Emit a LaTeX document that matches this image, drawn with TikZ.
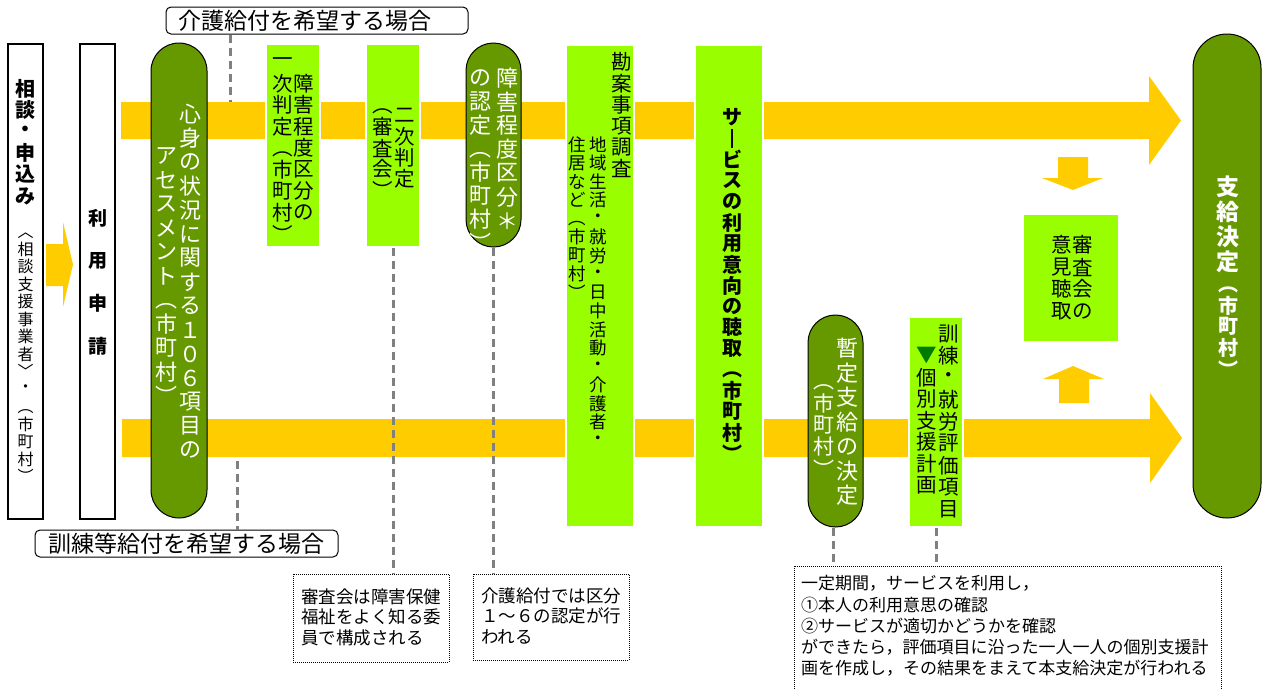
\documentclass[tikz,border=0pt]{standalone}
\usepackage{fontspec}
\setmainfont{Noto Sans CJK JP}
\definecolor{yel}{HTML}{FFCC00}
\definecolor{dkg}{HTML}{669900}
\definecolor{lgr}{HTML}{99FF00}
\definecolor{tri}{HTML}{007A00}
\definecolor{dgray}{HTML}{808080}
\newcommand\hf[2]{\fontsize{#1}{#2}\selectfont}
% vertical column of characters
\newdimen\vp
\def\vEnd{vEnd-unique}
\newcommand\vcol[2]{\vp=#1\relax\vbox{\offinterlineskip\vcolA#2\vEnd}}
\def\vcolA#1{\ifx\vEnd#1\else\vcolB{#1}\expandafter\vcolA\fi}
\def\vcolB#1{%
  \ifx︵#1\vcellB{#1}\else
  \ifx︿#1\vcellB{#1}\else
  \ifx︶#1\vcellT{#1}\else
  \ifx﹀#1\vcellT{#1}\else
  \vcellC{#1}\fi\fi\fi\fi}
\def\vcellC#1{\vbox to\vp{\vss\hbox to1em{\hss#1\hss}\vss}}
\def\vcellB#1{\vbox to\vp{\vss\hbox to1em{\hss#1\hss}\vskip0.1\vp}}
\def\vcellT#1{\vbox to\vp{\vskip0.1\vp\hbox to1em{\hss#1\hss}\vss}}
\newcommand\tri{{\color{tri}▼}}
\newcommand\vbarr{\vrule width 2.6pt height 9.5pt depth 9.5pt}
\begin{document}
\begin{tikzpicture}[x=1pt,y=-1pt,
  wbox/.style={rectangle,draw=black,line width=1.2pt,fill=white,inner sep=0pt},
  lgbox/.style={rectangle,fill=lgr,draw=white,line width=1.2pt,inner sep=0pt},
  pill/.style={rectangle,fill=dkg,draw=black,line width=1pt,inner sep=0pt},
  lbl/.style={rectangle,rounded corners=5pt,draw=black,line width=1pt,fill=white,inner sep=0pt},
  note/.style={rectangle,draw=black,line width=0.9pt,dash pattern=on 1pt off 1pt,inner sep=0pt},
  vt/.style={inner sep=0pt,text=black},
  vtw/.style={inner sep=0pt,text=white},
  dsh/.style={draw=dgray,line width=3pt,dash pattern=on 8pt off 5pt},
  ntext/.style={inner sep=0pt,anchor=west,align=left}
]
\useasboundingbox[fill=white] (0,0) rectangle (1262,689);
\clip (0,0) rectangle (1262,689);

% big yellow arrows
\fill[yel] (121,102) -- (1149,102) -- (1149,76) -- (1181,120.5) -- (1149,165) -- (1149,139) -- (121,139) -- cycle;
\fill[yel] (122,419) -- (1150,419) -- (1150,393) -- (1182,438) -- (1150,483) -- (1150,457) -- (122,457) -- cycle;
% small arrows
\fill[yel] (46,244) -- (63,244) -- (63,222) -- (73,264.5) -- (63,307) -- (63,286) -- (46,286) -- cycle;
\fill[yel] (1058,157) -- (1088,157) -- (1088,178) -- (1103,178) -- (1073,190) -- (1042,178) -- (1058,178) -- cycle;
\fill[yel] (1059,403) -- (1089,403) -- (1089,379) -- (1104,379) -- (1073,366) -- (1043,379) -- (1059,379) -- cycle;

% boxes
\node[wbox,minimum width=35pt,minimum height=475pt] (soudan) at (25.5,281.5) {};
\node[wbox,minimum width=35pt,minimum height=475pt] (riyou) at (97.5,281.5) {};
\node[pill,rounded corners=28pt,minimum width=56pt,minimum height=475pt] (assess) at (179,280.5) {};
\node[lgbox,minimum width=54pt,minimum height=203pt] (ichiji) at (293,145.5) {};
\node[lgbox,minimum width=54pt,minimum height=203pt] (niji) at (393,145.5) {};
\node[pill,rounded corners=27.5pt,minimum width=55pt,minimum height=204pt] (nintei) at (493.5,145) {};
\node[lgbox,minimum width=68pt,minimum height=482pt] (kanan) at (600,286) {};
\node[lgbox,minimum width=68pt,minimum height=482pt] (service) at (729,286) {};
\node[pill,rounded corners=27.5pt,minimum width=55pt,minimum height=212pt] (zantei) at (835.5,421) {};
\node[lgbox,minimum width=54pt,minimum height=210pt] (hyouka) at (936,422) {};
\node[lgbox,minimum width=96pt,minimum height=128pt] (shinsa) at (1071,278) {};
\node[pill,rounded corners=34pt,minimum width=68pt,minimum height=484pt] (shikyu) at (1227,276) {};

% vertical texts
\node[vt,anchor=north,font=\hf{20}{20}\bfseries] (ts1) at (25.5,78) {\vcol{21.4pt}{相談・申込み}};
\node[vt,anchor=north,font=\hf{16}{16}] (ts2) at (25.5,222.5) {\vcol{17.5pt}{︿相談支援事業者﹀・︵市町村︶}};
\node[vt,font=\hf{19}{19}\bfseries] (tr) at (97.5,282) {\vcol{42.7pt}{利用申請}};
\node[vtw,font=\hf{22}{22}] (ta1) at (190.5,282) {\vcol{24pt}{心身の状況に関する１０６項目の}};
\node[vtw,font=\hf{22}{22}] (ta2) at (166,276) {\vcol{24pt}{アセスメント︵市町村︶}};
\node[vt,font=\hf{20.5}{20.5}] (ti1) at (303.5,148) {\vcol{21.5pt}{障害程度区分の}};
\node[vt,font=\hf{20.5}{20.5}] (ti2) at (283,148) {\vcol{21.5pt}{一次判定︵市町村︶}};
\node[vt,font=\hf{20.5}{20.5}] (tn1) at (405,147) {\vcol{21pt}{二次判定}};
\node[vt,font=\hf{20.5}{20.5}] (tn2) at (383,148) {\vcol{21pt}{︵審査会︶}};
\node[vtw,anchor=north,font=\hf{22}{22}] (tk1) at (507,66) {\vcol{23.8pt}{障害程度区分＊}};
\node[vtw,anchor=north,font=\hf{22}{22}] (tk2) at (480.5,66) {\vcol{23.5pt}{の認定︵市町村︶}};
\node[vt,anchor=north,font=\hf{20.5}{20.5}] (tc1) at (622,51) {\vcol{21.4pt}{勘案事項調査}};
\node[vt,anchor=north,font=\hf{17.5}{17.5}] (tc2) at (598.5,135) {\vcol{18.5pt}{地域生活・就労・日中活動・介護者・}};
\node[vt,anchor=north,font=\hf{17.5}{17.5}] (tc3) at (577,135) {\vcol{18.5pt}{住居など︵市町村︶}};
\node[vt,font=\hf{20}{20}\bfseries] (tsv) at (732,285.5) {\vcol{21pt}{サ\vbarr ビスの利用意向の聴取︵市町村︶}};
\node[vtw,font=\hf{22}{22}] (tz1) at (847,422) {\vcol{24.5pt}{暫定支給の決定}};
\node[vtw,font=\hf{21}{21}] (tz2) at (823.5,425) {\vcol{22pt}{︵市町村︶}};
\node[vt,font=\hf{20.5}{20.5}] (th1) at (949,421.5) {\vcol{22pt}{訓練・就労評価項目}};
\node[vt,font=\hf{20.5}{20.5}] (th2) at (927,420.5) {\vcol{21.5pt}{\tri 個別支援計画}};
\node[vt,font=\hf{20.5}{20.5}] (tq1) at (1083,278) {\vcol{22pt}{審査会の}};
\node[vt,font=\hf{20.5}{20.5}] (tq2) at (1062,278) {\vcol{22pt}{意見聴取}};
\node[vtw,anchor=north,font=\hf{23}{23}\bfseries] (tsk1) at (1228,174) {\vcol{25pt}{支給決定}};
\node[vtw,anchor=north,font=\hf{20}{20}\bfseries] (tsk2) at (1228,274) {\vcol{21pt}{︵市町村︶}};

% labels
\node[lbl,minimum width=302pt,minimum height=27pt] (kaigo) at (317,20.5) {};
\node[inner sep=0pt,anchor=west,font=\hf{23}{23}] (kaigot) at (178,21) {介護給付を希望する場合};
\node[lbl,minimum width=303pt,minimum height=27pt] (kunrenl) at (186.5,543.5) {};
\node[inner sep=0pt,anchor=west,font=\hf{23}{23}] (kunrent) at (48,544) {訓練等給付を希望する場合};

% notes
\node[note,minimum width=156pt,minimum height=88pt] (n1) at (371,618) {};
\node[ntext,font=\hf{17.5}{20.5}] (n1t) at (301,617) {審査会は障害保健\\福祉をよく知る委\\員で構成される};
\node[note,minimum width=156pt,minimum height=86pt] (n2) at (551,617) {};
\node[ntext,font=\hf{17.5}{20.5}] (n2t) at (481,616) {介護給付では区分\\１～６の認定が行\\われる};
\node[note,minimum width=427pt,minimum height=140pt] (n3) at (1007.5,636) {};
\node[ntext,font=\hf{17}{21.2}] (n3t) at (801,626) {一定期間，サービスを利用し，\\①本人の利用意思の確認\\②サービスが適切かどうかを確認\\ができたら，評価項目に沿った一人一人の個別支援計\\画を作成し，その結果をまえて本支給決定が行われる};

% dashed connectors
\coordinate (topA) at (230,102);
\coordinate (botA) at (237,461);
\draw[dsh] (topA |- kaigo.south) -- (topA);
\draw[dsh] (botA) -- (botA |- kunrenl.north);
\draw[dsh] (niji.south) -- (niji.south |- n1.north);
\draw[dsh] (nintei.south) -- (nintei.south |- n2.north);
\draw[dsh] ([xshift=-2.5pt]zantei.south) -- ([xshift=-2.5pt]zantei.south |- n3.north);
\draw[dsh] (hyouka.south) -- (hyouka.south |- n3.north);
\end{tikzpicture}
\end{document}
